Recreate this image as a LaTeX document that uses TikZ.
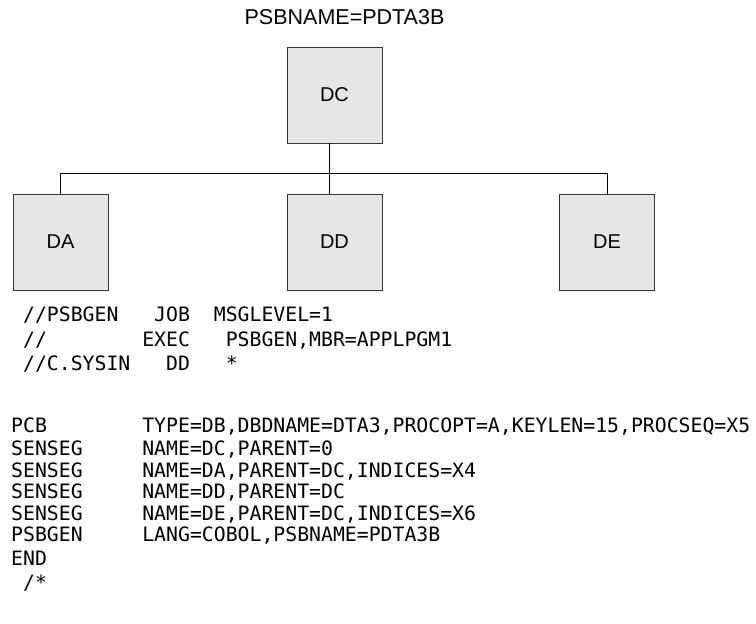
\documentclass[tikz,border=0pt]{standalone}
\usepackage{fontspec}
\setmainfont{Liberation Sans}
\newfontfamily\jclfont{DejaVu Sans Mono}
\usepackage{tikz}
\usepackage{xcolor}
\definecolor{segfill}{RGB}{230,230,230}
\definecolor{segedge}{RGB}{55,55,55}

\begin{document}
\frenchspacing
\begin{tikzpicture}[x=1pt, y=-1pt,
    seg/.style={draw=segedge, fill=segfill, line width=0.9pt, minimum width=95pt, minimum height=96pt, inner sep=0pt, font=\fontsize{20}{24}\selectfont},
    jcl/.style={anchor=base west, inner sep=0pt, font=\jclfont\fontsize{19.8}{22}\selectfont}]
    \useasboundingbox (0,0) rectangle (756,624);

    \node (title) at (344.5,17) {\fontsize{21.5}{24}\selectfont PSBNAME=PDTA3B};

    % segments
    \node[seg] (dc) at (334.5,95) {DC};
    \node[seg] (da) at (60.5,242) {DA};
    \node[seg] (dd) at (334.5,242) {DD};
    \node[seg] (de) at (607,242) {DE};

    % hierarchy lines
    \coordinate (bar) at (0,173);
    \coordinate (stem) at ([xshift=-5pt]dc.south);
    \draw[line width=1pt] (stem) -- (stem |- bar);
    \draw[line width=1pt] (da.north) -- (da.north |- bar) -- (de.north |- bar) -- (de.north);
    \draw[line width=1pt] (stem |- bar) -- (stem |- dd.north);

    % job stream
    \node[jcl] (job1) at (11,321) {~//PSBGEN~~~JOB~~MSGLEVEL=1};
    \node[jcl] (job2) at (11,346) {~//~~~~~~~~EXEC~~~PSBGEN,MBR=APPLPGM1};
    \node[jcl] (job3) at (11,370) {~//C.SYSIN~~~DD~~~*};

    % psbgen statements
    \node[jcl] (pcb) at (11,432) {PCB~~~~~~~~TYPE=DB,DBDNAME=DTA3,PROCOPT=A,KEYLEN=15,PROCSEQ=X5};
    \node[jcl] (seg1) at (11,455) {SENSEG~~~~~NAME=DC,PARENT=0};
    \node[jcl] (seg2) at (11,477) {SENSEG~~~~~NAME=DA,PARENT=DC,INDICES=X4};
    \node[jcl] (seg3) at (11,498) {SENSEG~~~~~NAME=DD,PARENT=DC};
    \node[jcl] (seg4) at (11,520) {SENSEG~~~~~NAME=DE,PARENT=DC,INDICES=X6};
    \node[jcl] (gen) at (11,541) {PSBGEN~~~~~LANG=COBOL,PSBNAME=PDTA3B};
    \node[jcl] (end) at (11,565) {END};
    \node[jcl] (eof) at (11,589) {~/*};
\end{tikzpicture}
\end{document}
